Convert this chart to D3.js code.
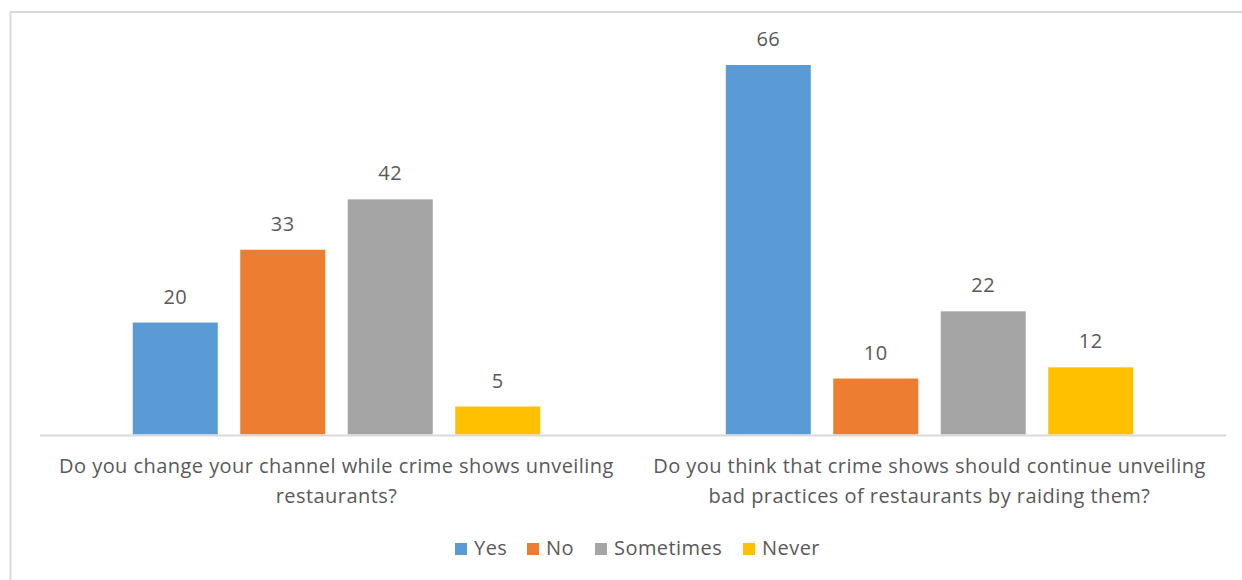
<!DOCTYPE html>
<html>
<head>
<meta charset="utf-8">
<script src="https://cdn.jsdelivr.net/npm/d3@7"></script>
<style>
  html, body { margin: 0; padding: 0; background: #fff; }
  svg { display: block; }
  text { font-family: "Open Sans", Lato, sans-serif; fill: #595959; letter-spacing: 0.45px; }
</style>
</head>
<body>
<svg id="chart" width="1242" height="580"></svg>
<script>
// Survey questions (two-line category labels)
const questions = [
  ["Do you change your channel while crime shows unveiling", "restaurants?"],
  ["Do you think that crime shows should continue unveiling", "bad practices of restaurants by raiding them?"]
];
const answers = ["Yes", "No", "Sometimes", "Never"];
const colors = ["#5b9bd5", "#ed7d31", "#a5a5a5", "#ffc000"];
// Responses per question, in answer order
const q1Values = [20, 33, 42, 5];
const q2Values = [66, 10, 22, 12];
const seriesValues = [q1Values, q2Values];

const svg = d3.select("#chart");
const W = 1242, H = 580;
const plot = { left: 40, right: 1226, bottom: 434.5 };
const fontSize = 20;

// Chart frame
svg.append("line").attr("x1", 10.5).attr("x2", 10.5).attr("y1", 12).attr("y2", H)
  .attr("stroke", "#d9d9d9").attr("stroke-width", 2);
svg.append("line").attr("x1", 10).attr("x2", W).attr("y1", 12).attr("y2", 12)
  .attr("stroke", "#d9d9d9").attr("stroke-width", 2);

const x0 = d3.scaleBand().domain(d3.range(questions.length))
  .range([plot.left, plot.right]);
const x1 = d3.scaleBand().domain(answers)
  .range([0, x0.bandwidth()]).paddingInner(0.209).paddingOuter(0.863);
const y = d3.scaleLinear().domain([0, 66]).range([plot.bottom, 65]);

const groups = svg.selectAll("g.group").data(seriesValues).enter().append("g")
  .attr("class", "group")
  .attr("transform", (d, i) => `translate(${x0(i)},0)`);

groups.selectAll("rect").data(d => d.map((v, j) => ({ v, a: answers[j], c: colors[j] })))
  .enter().append("rect")
  .attr("x", d => x1(d.a))
  .attr("width", x1.bandwidth())
  .attr("y", d => y(d.v))
  .attr("height", d => y(0) - y(d.v))
  .attr("fill", d => d.c);

groups.selectAll("text.val").data(d => d.map((v, j) => ({ v, a: answers[j] })))
  .enter().append("text")
  .attr("class", "val")
  .attr("x", d => x1(d.a) + x1.bandwidth() / 2)
  .attr("y", d => y(d.v) - 19)
  .attr("text-anchor", "middle")
  .attr("font-size", fontSize)
  .text(d => d.v);

// Baseline
svg.append("line").attr("x1", plot.left).attr("x2", plot.right)
  .attr("y1", plot.bottom + 1).attr("y2", plot.bottom + 1)
  .attr("stroke", "#d9d9d9").attr("stroke-width", 2);

// Category labels
questions.forEach((lines, i) => {
  const cx = x0(i) + x0.bandwidth() / 2;
  lines.forEach((ln, k) => {
    svg.append("text")
      .attr("x", cx).attr("y", 473 + k * 30)
      .attr("text-anchor", "middle")
      .attr("font-size", fontSize)
      .text(ln);
  });
});

// Legend
const legendX = [455, 527, 595, 743];
const legend = svg.append("g");
answers.forEach((a, i) => {
  legend.append("rect").attr("x", legendX[i]).attr("y", 543).attr("width", 12).attr("height", 12)
    .attr("fill", colors[i]);
  legend.append("text").attr("x", legendX[i] + 19).attr("y", 555)
    .attr("font-size", fontSize).text(a);
});
</script>
</body>
</html>
